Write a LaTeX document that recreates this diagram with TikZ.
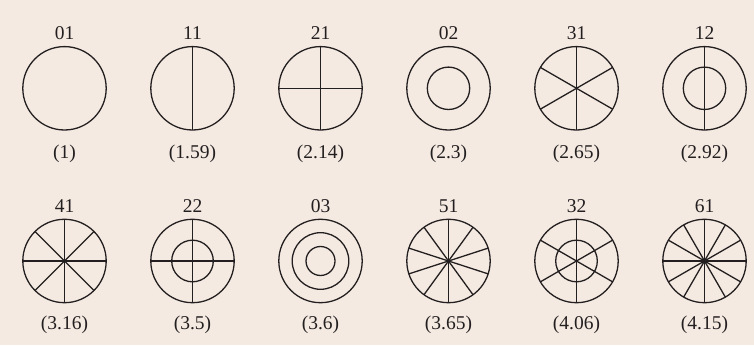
\documentclass[tikz,border=0pt]{standalone}
\usepackage{fontspec}
\setmainfont{Liberation Serif}
\usetikzlibrary{positioning}
\definecolor{paper}{RGB}{244,234,225}
\definecolor{ink}{RGB}{35,31,32}

\begin{document}
\begin{tikzpicture}[x=1pt, y=1pt,
    mode/.style={draw=ink, circle, minimum size=83.4pt, inner sep=0pt, outer sep=0pt, line width=1.3pt},
    ring/.style={draw=ink, circle, inner sep=0pt, outer sep=0pt, line width=1.3pt},
    nodal/.style={draw=ink, line width=1.3pt},
    lbl/.style={font=\fontsize{19.5}{19.5}\selectfont, text=ink, anchor=base, inner sep=0pt},
  ]
  % Background
  \fill[paper] (0,0) rectangle (754,345);

  % Row 1: mode shapes
  \node[mode] (m01) at (64.5, 256.7)  {};
  \node[mode] (m11) at (192.5, 256.7) {};
  \node[mode] (m21) at (320.5, 256.7) {};
  \node[mode] (m02) at (448.5, 256.7) {};
  \node[mode] (m31) at (576.5, 256.7) {};
  \node[mode] (m12) at (704.5, 256.7) {};

  % Row 2: mode shapes
  \node[mode] (m41) at (64.5, 84)  {};
  \node[mode] (m22) at (192.5, 84) {};
  \node[mode] (m03) at (320.5, 84) {};
  \node[mode] (m51) at (448.5, 84) {};
  \node[mode] (m32) at (576.5, 84) {};
  \node[mode] (m61) at (704.5, 84) {};

  % Nodal circles
  \node[ring, minimum size=42.4pt] (r02)  at (m02) {};
  \node[ring, minimum size=42.4pt] (r12)  at (m12) {};
  \node[ring, minimum size=41.6pt] (r22)  at (m22) {};
  \node[ring, minimum size=56.6pt] (r03a) at (m03) {};
  \node[ring, minimum size=29pt]   (r03b) at (m03) {};
  \node[ring, minimum size=41.6pt] (r32)  at (m32) {};

  % Nodal diameters
  \draw[nodal] (m11.north) -- (m11.south);
  \foreach \a/\b in {90/270, 0/180}
    \draw[nodal] (m21.\a) -- (m21.\b);
  \foreach \a/\b in {90/270, 30/210, 150/330}
    \draw[nodal] (m31.\a) -- (m31.\b);
  \draw[nodal] (m12.north) -- (m12.south);
  \foreach \a/\b in {90/270, 0/180, 45/225, 135/315}
    \draw[nodal] (m41.\a) -- (m41.\b);
  \foreach \a/\b in {90/270, 0/180}
    \draw[nodal] (m22.\a) -- (m22.\b);
  \foreach \a/\b in {90/270, 18/198, 54/234, 126/306, 162/342}
    \draw[nodal] (m51.\a) -- (m51.\b);
  \foreach \a/\b in {90/270, 30/210, 150/330}
    \draw[nodal] (m32.\a) -- (m32.\b);
  \foreach \a/\b in {0/180, 30/210, 60/240, 90/270, 120/300, 150/330}
    \draw[nodal] (m61.\a) -- (m61.\b);

  % Mode indices
  \node[lbl] (n01) at (64.5, 305)  {01};
  \node[lbl] (n11) at (192.5, 305) {11};
  \node[lbl] (n21) at (320.5, 305) {21};
  \node[lbl] (n02) at (448.5, 305) {02};
  \node[lbl] (n31) at (576.5, 305) {31};
  \node[lbl] (n12) at (704.5, 305) {12};
  \node[lbl] (n41) at (64.5, 132.7)  {41};
  \node[lbl] (n22) at (192.5, 132.7) {22};
  \node[lbl] (n03) at (320.5, 132.7) {03};
  \node[lbl] (n51) at (448.5, 132.7) {51};
  \node[lbl] (n32) at (576.5, 132.7) {32};
  \node[lbl] (n61) at (704.5, 132.7) {61};

  % Frequency ratios
  \node[lbl] (f01) at (64.5, 186.5)  {(1)};
  \node[lbl] (f11) at (192.5, 186.5) {(1.59)};
  \node[lbl] (f21) at (320.5, 186.5) {(2.14)};
  \node[lbl] (f02) at (448.5, 186.5) {(2.3)};
  \node[lbl] (f31) at (576.5, 186.5) {(2.65)};
  \node[lbl] (f12) at (704.5, 186.5) {(2.92)};
  \node[lbl] (f41) at (64.5, 15.7)  {(3.16)};
  \node[lbl] (f22) at (192.5, 15.7) {(3.5)};
  \node[lbl] (f03) at (320.5, 15.7) {(3.6)};
  \node[lbl] (f51) at (448.5, 15.7) {(3.65)};
  \node[lbl] (f32) at (576.5, 15.7) {(4.06)};
  \node[lbl] (f61) at (704.5, 15.7) {(4.15)};
\end{tikzpicture}
\end{document}
